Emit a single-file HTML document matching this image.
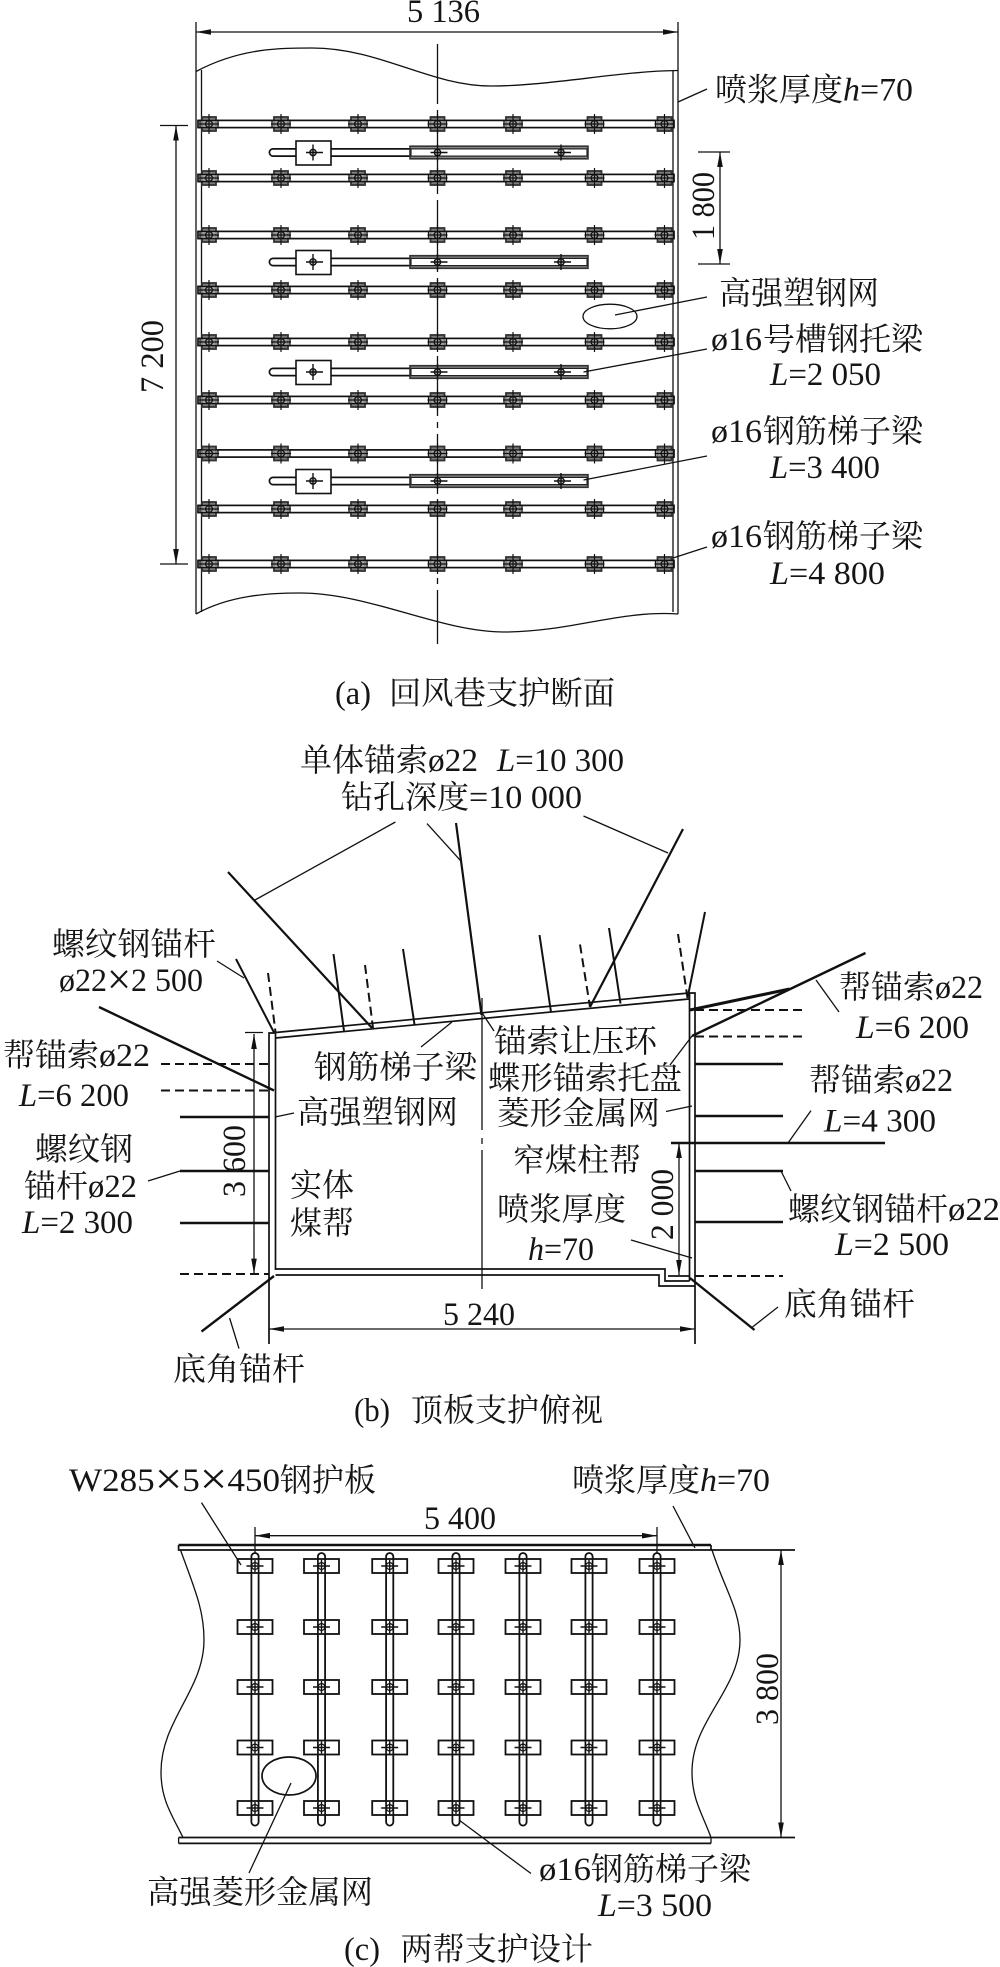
<!DOCTYPE html>
<html><head><meta charset="utf-8"><style>
html,body{margin:0;padding:0;background:#fff}
svg{display:block}
text{font-family:"Liberation Serif","Noto Serif CJK SC",serif;font-size:32px;fill:#151515}
.n{font-size:33px}
.l{stroke:#111;stroke-width:1.7;fill:none}
.t{stroke:#111;stroke-width:1.3;fill:none}
.b{stroke:#111;stroke-width:2.4;fill:none}
.d{stroke:#111;stroke-width:2;fill:none;stroke-dasharray:9 5}
</style></head><body>
<svg width="1000" height="1967" viewBox="0 0 1000 1967" xmlns="http://www.w3.org/2000/svg">
<defs>
<marker id="a" markerWidth="16" markerHeight="8" refX="15" refY="4" orient="auto-start-reverse" markerUnits="userSpaceOnUse"><path d="M0 1.2L15 4L0 6.8z" fill="#111"/></marker>
<g id="bolt"><rect x="-7" y="-7" width="14" height="14" fill="#7c7c7c" stroke="#333" stroke-width="1.8"/><rect x="-9" y="-3.6" width="18" height="7.2" fill="#bbb" fill-opacity=".6" stroke="#111" stroke-width="1.3"/><circle r="3.4" fill="none" stroke="#111" stroke-width="1.3"/><path d="M-10 0H10M0-10V10" stroke="#111" stroke-width="1.2"/></g>
<g id="sb"><circle r="3.2" fill="#bbb" stroke="#111" stroke-width="1.3"/><path d="M-7 0H10M0-8V8" stroke="#111" stroke-width="1.4"/></g>
<g id="row"><rect x="198" y="-3.6" width="476" height="7.2" fill="none" stroke="#111" stroke-width="1.7"/>
<use href="#bolt" x="209"/><use href="#bolt" x="281"/><use href="#bolt" x="358"/><use href="#bolt" x="437.5"/><use href="#bolt" x="513"/><use href="#bolt" x="594.5"/><use href="#bolt" x="664.5"/></g>
<g id="short"><path d="M588-3.6H273a3.6 3.6 0 0 0 0 7.2H588" class="l"/><rect x="296" y="-11.5" width="35" height="24" fill="#fff" stroke="#111" stroke-width="1.6"/>
<rect x="410" y="-6.3" width="178" height="12.6" fill="#888" stroke="#333" stroke-width="1.6"/><rect x="411" y="-3.6" width="176" height="7.2" fill="#fff" stroke="#222" stroke-width="1.2"/>
<use href="#sb" x="313"/><use href="#sb" x="437.5"/><use href="#sb" x="561"/></g>
<g id="cb"><rect x="-17.5" y="-7" width="35" height="14" fill="#fff" stroke="#111" stroke-width="1.8"/><path d="M-3.6-7V7M3.6-7V7" class="l"/><circle r="3.4" fill="none" stroke="#111" stroke-width="1.2"/><path d="M-8.5 0H8.5M0-6V6" stroke="#111" stroke-width="1.4"/></g>
<g id="col"><path d="M-3.6 1822V1556.6a3.6 3.6 0 0 1 7.2 0V1822a3.6 3.6 0 0 1-7.2 0z" stroke="#111" stroke-width="1.8" fill="none"/>
<use href="#cb" y="1566"/><use href="#cb" y="1627"/><use href="#cb" y="1687"/><use href="#cb" y="1747.5"/><use href="#cb" y="1808"/></g>
</defs>

<!-- (a) -->
<path class="t" d="M196 22V614M678 22V614M201.5 70V612M673 70V612"/>
<path class="t" d="M196 71.5C240 48 280 48 312 48C380 48 430 86 491 86C550 86 620 71 678 70.5"/>
<path class="t" d="M196 614C230 595 270 593 300 593C370 593 440 632 504 632C570 632 620 610 678 614"/>
<path class="t" d="M196 32H678" marker-start="url(#a)" marker-end="url(#a)"/>
<path class="t" d="M437.5 44V644" stroke-dasharray="60 6 6 6"/>
<use href="#row" y="124"/><use href="#row" y="178"/><use href="#row" y="235"/><use href="#row" y="290"/><use href="#row" y="342"/><use href="#row" y="400"/><use href="#row" y="453.5"/><use href="#row" y="509"/><use href="#row" y="564"/>
<use href="#short" y="152.5"/><use href="#short" y="262"/><use href="#short" y="372"/><use href="#short" y="481"/>
<path class="t" d="M160 125.5H188M160 564H188"/>
<path class="t" d="M176 125.5V564" marker-start="url(#a)" marker-end="url(#a)"/>
<path class="t" d="M698 152H730M698 264H730"/>
<path class="t" d="M720 152V264" marker-start="url(#a)" marker-end="url(#a)"/>
<ellipse cx="610" cy="316.5" rx="27" ry="12.3" class="t"/>
<path class="t" d="M678 102L707 89M615 315L707 297M583.5 372L707 349M583.5 480L707 456M673 558L707 547"/>
<text class="n" x="407" y="22" textLength="73" lengthAdjust="spacingAndGlyphs">5 136</text>
<text x="715" y="100.5" textLength="128" lengthAdjust="spacingAndGlyphs">喷浆厚度</text>
<text class="n" x="843" y="100.5" textLength="70" lengthAdjust="spacingAndGlyphs"><tspan font-style="italic">h</tspan>=70</text>
<text x="719" y="304" textLength="160" lengthAdjust="spacingAndGlyphs">高强塑钢网</text>
<text class="n" x="711" y="350" textLength="51" lengthAdjust="spacingAndGlyphs">ø16</text>
<text x="763" y="350" textLength="160" lengthAdjust="spacingAndGlyphs">号槽钢托梁</text>
<text class="n" x="770" y="385" textLength="111" lengthAdjust="spacingAndGlyphs"><tspan font-style="italic">L</tspan>=2 050</text>
<text class="n" x="711" y="442" textLength="51" lengthAdjust="spacingAndGlyphs">ø16</text>
<text x="763" y="442" textLength="160" lengthAdjust="spacingAndGlyphs">钢筋梯子梁</text>
<text class="n" x="770" y="478" textLength="110" lengthAdjust="spacingAndGlyphs"><tspan font-style="italic">L</tspan>=3 400</text>
<text class="n" x="711" y="547" textLength="51" lengthAdjust="spacingAndGlyphs">ø16</text>
<text x="763" y="547" textLength="160" lengthAdjust="spacingAndGlyphs">钢筋梯子梁</text>
<text class="n" x="770" y="584" textLength="115" lengthAdjust="spacingAndGlyphs"><tspan font-style="italic">L</tspan>=4 800</text>
<text class="n" transform="translate(163 393) rotate(-90)" textLength="73" lengthAdjust="spacingAndGlyphs">7 200</text>
<text class="n" transform="translate(714 240) rotate(-90)" textLength="68" lengthAdjust="spacingAndGlyphs">1 800</text>
<text class="n" x="335" y="704" textLength="36" lengthAdjust="spacingAndGlyphs">(a)</text>
<text x="389" y="704" textLength="226" lengthAdjust="spacingAndGlyphs">回风巷支护断面</text>

<!-- (b) room -->
<path class="l" d="M269 1344V1033H275.5V1270M275.5 1032.5L689 993H695V1344M275.5 1038L689 999M689.5 993V1281"/>
<path class="l" d="M275.5 1269H665V1281H689.5M275.5 1275H659V1286H695M668 1276H690"/>
<path class="t" d="M482 998V1130M482 1138V1144M482 1150V1289"/>
<path class="t" d="M245 1032.5H263"/>
<path class="t" d="M254 1034V1273.6" marker-start="url(#a)" marker-end="url(#a)"/>
<path class="t" d="M679 1143V1275" marker-start="url(#a)" marker-end="url(#a)"/>
<path class="t" d="M269 1329H695" marker-start="url(#a)" marker-end="url(#a)"/>
<!-- anchors -->
<path class="b" d="M228 872L372 1028M456 823L481.5 1015M683 829L590 1007" style="stroke-width:2.2"/>
<path class="b" style="stroke-width:2" d="M236 959L274 1032.5M333.5 954L344 1031M403 949L414.5 1024.5M539.5 935L551 1012M609 928L620.5 1003.5M705 912L687.5 998"/>
<path class="d" d="M268 973L275.5 1032M365 965L373 1028M580 944.5L590 1007M678 934L687.5 998"/>
<path class="b" d="M690 1010L789.5 989" style="stroke-width:3"/>
<path class="b" d="M692 1036L865.5 953"/>
<path class="d" d="M695 1010H803.5M695 1036.5H803.5M695 1276H783"/>
<path class="b" d="M695 1064H783M695 1116H783M695 1171H783M695 1222H783M671 1143H885"/>
<path class="b" d="M690 1278L754.5 1330M274 1276L201.5 1331.6M99 1007L274 1090.5"/>
<path class="d" d="M161 1064H269M161 1090.5H269M180 1274H269"/>
<path class="b" d="M180 1117H269M180 1171H269M180 1223H269"/>
<!-- leaders -->
<path class="t" d="M395.4 822L255 900M427 823.6L460.5 860.6M583.5 816L668 853M217 961L244 978M816 980L839 1012M421 1047L452 1022M481.5 1012L494 1031M670 1065L692 1036M666 1111.5L692 1106M275 1117L294 1113M788 1143L811 1110.6M781 1171L791 1191M148 1181L180 1171M631 1240L692 1258M752.5 1327L778 1307M229.6 1318L239 1348.6"/>
<!-- labels -->
<text x="300" y="771" textLength="128" lengthAdjust="spacingAndGlyphs">单体锚索</text>
<text class="n" x="428" y="771" textLength="50" lengthAdjust="spacingAndGlyphs">ø22</text>
<text class="n" x="497" y="771" textLength="127" lengthAdjust="spacingAndGlyphs"><tspan font-style="italic">L</tspan>=10 300</text>
<text x="341" y="808" textLength="128" lengthAdjust="spacingAndGlyphs">钻孔深度</text>
<text class="n" x="469" y="808" textLength="113" lengthAdjust="spacingAndGlyphs">=10 000</text>
<text x="52" y="955" textLength="164" lengthAdjust="spacingAndGlyphs">螺纹钢锚杆</text>
<text class="n" x="59" y="991" textLength="144" lengthAdjust="spacingAndGlyphs">ø22<tspan font-size="44" dy="3">×</tspan><tspan dy="-3">2 500</tspan></text>
<text x="3" y="1066" textLength="96" lengthAdjust="spacingAndGlyphs">帮锚索</text>
<text class="n" x="99" y="1066" textLength="51" lengthAdjust="spacingAndGlyphs">ø22</text>
<text class="n" x="19" y="1106" textLength="110" lengthAdjust="spacingAndGlyphs"><tspan font-style="italic">L</tspan>=6 200</text>
<text x="297" y="1123" textLength="161" lengthAdjust="spacingAndGlyphs">高强塑钢网</text>
<text x="314" y="1078" textLength="163" lengthAdjust="spacingAndGlyphs">钢筋梯子梁</text>
<text x="494" y="1052" textLength="163" lengthAdjust="spacingAndGlyphs">锚索让压环</text>
<text x="488" y="1089" textLength="194" lengthAdjust="spacingAndGlyphs">蝶形锚索托盘</text>
<text x="497" y="1124" textLength="163" lengthAdjust="spacingAndGlyphs">菱形金属网</text>
<text x="513" y="1171" textLength="128" lengthAdjust="spacingAndGlyphs">窄煤柱帮</text>
<text x="497" y="1220" textLength="129" lengthAdjust="spacingAndGlyphs">喷浆厚度</text>
<text class="n" x="528" y="1260" textLength="66" lengthAdjust="spacingAndGlyphs"><tspan font-style="italic">h</tspan>=70</text>
<text x="290" y="1196" textLength="64" lengthAdjust="spacingAndGlyphs">实体</text>
<text x="290" y="1234" textLength="64" lengthAdjust="spacingAndGlyphs">煤帮</text>
<text x="35" y="1160" textLength="98" lengthAdjust="spacingAndGlyphs">螺纹钢</text>
<text x="24" y="1197" textLength="64" lengthAdjust="spacingAndGlyphs">锚杆</text>
<text class="n" x="88" y="1197" textLength="49" lengthAdjust="spacingAndGlyphs">ø22</text>
<text class="n" x="22" y="1233" textLength="111" lengthAdjust="spacingAndGlyphs"><tspan font-style="italic">L</tspan>=2 300</text>
<text x="839" y="998" textLength="96" lengthAdjust="spacingAndGlyphs">帮锚索</text>
<text class="n" x="935" y="998" textLength="48" lengthAdjust="spacingAndGlyphs">ø22</text>
<text class="n" x="856" y="1038" textLength="113" lengthAdjust="spacingAndGlyphs"><tspan font-style="italic">L</tspan>=6 200</text>
<text x="809" y="1091" textLength="96" lengthAdjust="spacingAndGlyphs">帮锚索</text>
<text class="n" x="905" y="1091" textLength="48" lengthAdjust="spacingAndGlyphs">ø22</text>
<text class="n" x="824" y="1131.5" textLength="112" lengthAdjust="spacingAndGlyphs"><tspan font-style="italic">L</tspan>=4 300</text>
<text x="788" y="1220" textLength="160" lengthAdjust="spacingAndGlyphs">螺纹钢锚杆</text>
<text class="n" x="948" y="1220" textLength="52" lengthAdjust="spacingAndGlyphs">ø22</text>
<text class="n" x="835" y="1255" textLength="114" lengthAdjust="spacingAndGlyphs"><tspan font-style="italic">L</tspan>=2 500</text>
<text x="784" y="1315" textLength="131" lengthAdjust="spacingAndGlyphs">底角锚杆</text>
<text x="173" y="1380" textLength="132" lengthAdjust="spacingAndGlyphs">底角锚杆</text>
<text class="n" x="443" y="1325" textLength="72" lengthAdjust="spacingAndGlyphs">5 240</text>
<text class="n" transform="translate(245 1197) rotate(-90)" textLength="72" lengthAdjust="spacingAndGlyphs">3 600</text>
<text class="n" transform="translate(673 1240) rotate(-90)" textLength="71" lengthAdjust="spacingAndGlyphs">2 000</text>
<text class="n" x="354" y="1421" textLength="36" lengthAdjust="spacingAndGlyphs">(b)</text>
<text x="411" y="1421" textLength="192" lengthAdjust="spacingAndGlyphs">顶板支护俯视</text>

<!-- (c) -->
<path class="b" d="M178.6 1545H711"/>
<path class="l" d="M178.6 1545V1550H711V1545M711 1550H795"/>
<path class="b" d="M178.6 1837.5H795" style="stroke-width:1.8"/>
<path class="b" d="M178.6 1843.4H711" style="stroke-width:1.8"/>
<path class="t" d="M178.6 1837.5V1843.4M711 1837.5V1843.4"/>
<path class="t" d="M180.5 1550C195 1590 204 1610 204 1640C204 1690 161 1720 161 1772C161 1800 172 1815 183 1837.5"/>
<path class="t" d="M712 1550C725 1590 740 1610 740 1640C740 1690 692 1720 692 1772C692 1800 703 1815 711 1837.5"/>
<use href="#col" x="255"/><use href="#col" x="321.5"/><use href="#col" x="389.7"/><use href="#col" x="456"/><use href="#col" x="523"/><use href="#col" x="589"/><use href="#col" x="657"/>
<path class="t" d="M255 1527V1553M657 1527V1553"/>
<path class="t" d="M255 1535.7H657" marker-start="url(#a)" marker-end="url(#a)"/>
<path class="t" d="M781 1550V1837.5" marker-start="url(#a)" marker-end="url(#a)"/>
<ellipse cx="289" cy="1776" rx="27" ry="19" stroke="#111" stroke-width="1.7" fill="#fff"/>
<path class="t" d="M291 1783L249 1873M201.5 1502.6L241 1565M673 1506L695 1548M459 1820L531 1873.5"/>
<text class="n" x="69" y="1491" textLength="211" lengthAdjust="spacingAndGlyphs">W285<tspan font-size="46" dy="3">×</tspan><tspan dy="-3">5</tspan><tspan font-size="46" dy="3">×</tspan><tspan dy="-3">450</tspan></text>
<text x="280" y="1491" textLength="96" lengthAdjust="spacingAndGlyphs">钢护板</text>
<text x="572" y="1491" textLength="128" lengthAdjust="spacingAndGlyphs">喷浆厚度</text>
<text class="n" x="700" y="1491" textLength="70" lengthAdjust="spacingAndGlyphs"><tspan font-style="italic">h</tspan>=70</text>
<text class="n" x="424" y="1529" textLength="72" lengthAdjust="spacingAndGlyphs">5 400</text>
<text class="n" transform="translate(778 1725) rotate(-90)" textLength="72" lengthAdjust="spacingAndGlyphs">3 800</text>
<text x="147" y="1903" textLength="226" lengthAdjust="spacingAndGlyphs">高强菱形金属网</text>
<text class="n" x="539" y="1880" textLength="52" lengthAdjust="spacingAndGlyphs">ø16</text>
<text x="591" y="1880" textLength="160" lengthAdjust="spacingAndGlyphs">钢筋梯子梁</text>
<text class="n" x="598" y="1916" textLength="114" lengthAdjust="spacingAndGlyphs"><tspan font-style="italic">L</tspan>=3 500</text>
<text class="n" x="344" y="1960" textLength="36" lengthAdjust="spacingAndGlyphs">(c)</text>
<text x="400.5" y="1960" textLength="192.5" lengthAdjust="spacingAndGlyphs">两帮支护设计</text>
</svg>
</body></html>
